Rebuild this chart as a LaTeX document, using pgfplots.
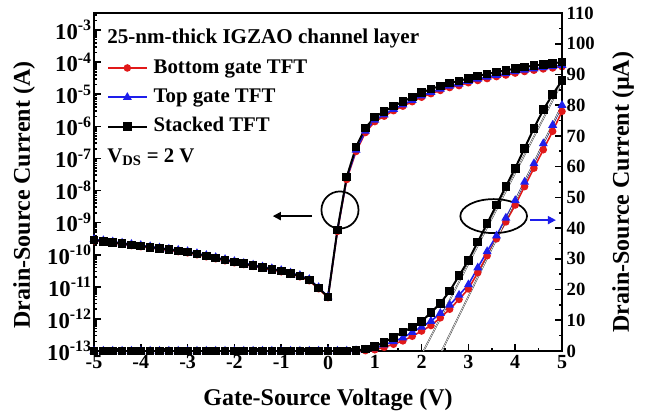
\documentclass[border=0pt]{standalone}
\usepackage{fontspec}
\setmainfont{Liberation Serif}
\usepackage{pgfplots}
\usepackage{pgfplotstable}
\pgfplotsset{compat=1.18}
\usetikzlibrary{arrows.meta}
\definecolor{cred}{RGB}{225,25,25}
\definecolor{cblue}{RGB}{30,30,235}

\pgfplotstableread{
x bot top stk
-5.0 2.73e-10 3.01e-10 2.87e-10
-4.8 2.51e-10 2.77e-10 2.64e-10
-4.6 2.30e-10 2.54e-10 2.42e-10
-4.4 2.11e-10 2.33e-10 2.22e-10
-4.2 1.93e-10 2.13e-10 2.03e-10
-4.0 1.78e-10 1.96e-10 1.87e-10
-3.8 1.62e-10 1.80e-10 1.71e-10
-3.6 1.49e-10 1.65e-10 1.57e-10
-3.4 1.37e-10 1.51e-10 1.44e-10
-3.2 1.25e-10 1.39e-10 1.32e-10
-3.0 1.15e-10 1.27e-10 1.21e-10
-2.8 9.98e-11 1.10e-10 1.05e-10
-2.6 8.66e-11 9.58e-11 9.12e-11
-2.4 7.50e-11 8.28e-11 7.89e-11
-2.2 6.50e-11 7.18e-11 6.84e-11
-2.0 5.63e-11 6.23e-11 5.93e-11
-1.8 4.95e-11 5.47e-11 5.21e-11
-1.6 4.34e-11 4.80e-11 4.57e-11
-1.4 3.82e-11 4.22e-11 4.02e-11
-1.2 3.35e-11 3.71e-11 3.53e-11
-1.0 2.95e-11 3.26e-11 3.10e-11
-0.8 2.46e-11 2.72e-11 2.59e-11
-0.6 2.06e-11 2.28e-11 2.17e-11
-0.4 1.55e-11 1.71e-11 1.63e-11
-0.2 8.72e-12 9.64e-12 9.18e-12
0.0 4.60e-12 4.90e-12 4.81e-12
0.2 5.30e-10 5.60e-10 5.87e-10
0.4 2.20e-8 2.40e-8 2.63e-8
0.6 1.65e-7 1.83e-7 2.29e-7
0.8 6.42e-7 7.13e-7 8.91e-7
1.0 1.40e-6 1.56e-6 1.95e-6
1.2 2.07e-6 2.30e-6 2.88e-6
1.4 3.07e-6 3.42e-6 4.27e-6
1.6 4.24e-6 4.71e-6 5.89e-6
1.8 5.85e-6 6.50e-6 8.13e-6
2.0 8.06e-6 8.96e-6 1.12e-5
2.2 1.04e-5 1.16e-5 1.45e-5
2.4 1.31e-5 1.46e-5 1.82e-5
2.6 1.61e-5 1.79e-5 2.24e-5
2.8 1.85e-5 2.06e-5 2.57e-5
3.0 2.28e-5 2.53e-5 3.16e-5
3.2 2.68e-5 2.98e-5 3.72e-5
3.4 3.07e-5 3.42e-5 4.27e-5
3.6 3.53e-5 3.92e-5 4.90e-5
3.8 3.96e-5 4.40e-5 5.50e-5
4.0 4.54e-5 5.05e-5 6.31e-5
4.2 5.10e-5 5.66e-5 7.08e-5
4.4 5.59e-5 6.21e-5 7.76e-5
4.6 6.13e-5 6.81e-5 8.51e-5
4.8 6.57e-5 7.30e-5 9.12e-5
5.0 7.20e-5 8.00e-5 1.00e-4
}\logdata

\pgfplotstableread{
x bot top stk
-5.0 0 0 0
-4.8 0 0 0
-4.6 0 0 0
-4.4 0 0 0
-4.2 0 0 0
-4.0 0 0 0
-3.8 0 0 0
-3.6 0 0 0
-3.4 0 0 0
-3.2 0 0 0
-3.0 0 0 0
-2.8 0 0 0
-2.6 0 0 0
-2.4 0 0 0
-2.2 0 0 0
-2.0 0 0 0
-1.8 0 0 0
-1.6 0 0 0
-1.4 0 0 0
-1.2 0 0 0
-1.0 0 0 0
-0.8 0 0 0
-0.6 0 0 0
-0.4 0 0 0
-0.2 0 0 0
0.0 0 0 0
0.2 0 0 0
0.4 0 0.02 0.03
0.6 0.05 0.15 0.2
0.8 0.1 0.3 0.6
1.0 0.4 0.8 1.5
1.2 1.2 2.0 2.8
1.4 2.2 3.1 4.5
1.6 3.3 4.3 6.2
1.8 4.8 6.1 7.8
2.0 6.5 7.8 9.6
2.2 8.3 9.7 12.5
2.4 10.8 12.3 15.5
2.6 13.6 15.0 19.5
2.8 16.8 18.2 24.5
3.0 20.2 21.6 29.5
3.2 25.5 27.1 35.5
3.4 31.0 32.4 41.5
3.6 36.5 37.5 47.5
3.8 42.0 43.3 53.5
4.0 47.5 49.0 59.5
4.2 53.5 55.0 66.0
4.4 59.5 61.0 72.5
4.6 65.5 67.5 78.5
4.8 71.5 73.5 83.5
5.0 78.0 80.0 88.0
}\lindata

\pgfplotsset{
  common/.style={
    scale only axis, width=351pt, height=253.5pt,
    xmin=-5, xmax=5,
    tick align=inside,
    major tick length=5pt, minor tick length=2.5pt,
    every tick/.style={black, line width=1.2pt},
    axis line style={line width=1.8pt},
    /pgf/number format/assume math mode=true,
  },
  redstyle/.style={cred, line width=1.2pt, mark=*, mark size=2.2pt, mark options={fill=cred, draw=cred}},
  bluestyle/.style={cblue, line width=1.2pt, mark=triangle*, mark size=2.7pt, mark options={fill=cblue, draw=cblue}},
  blackstyle/.style={black, line width=1.5pt, mark=square*, mark size=2.5pt, mark options={fill=black}},
}

\begin{document}
\begin{tikzpicture}
\useasboundingbox (-70.5pt,-47.25pt) rectangle (416.25pt,263.25pt);
\begin{axis}[common,
  ymode=log, ymin=1e-13, ymax=3.39e-3,
  tick pos=left,
  xtick={-5,-4,...,5}, minor x tick num=1,
  ytick={1e-13,1e-12,1e-11,1e-10,1e-9,1e-8,1e-7,1e-6,1e-5,1e-4,1e-3},
  minor ytick={2e-13,3e-13,4e-13,5e-13,6e-13,7e-13,8e-13,9e-13,
    2e-12,3e-12,4e-12,5e-12,6e-12,7e-12,8e-12,9e-12,
    2e-11,3e-11,4e-11,5e-11,6e-11,7e-11,8e-11,9e-11,
    2e-10,3e-10,4e-10,5e-10,6e-10,7e-10,8e-10,9e-10,
    2e-9,3e-9,4e-9,5e-9,6e-9,7e-9,8e-9,9e-9,
    2e-8,3e-8,4e-8,5e-8,6e-8,7e-8,8e-8,9e-8,
    2e-7,3e-7,4e-7,5e-7,6e-7,7e-7,8e-7,9e-7,
    2e-6,3e-6,4e-6,5e-6,6e-6,7e-6,8e-6,9e-6,
    2e-5,3e-5,4e-5,5e-5,6e-5,7e-5,8e-5,9e-5,
    2e-4,3e-4,4e-4,5e-4,6e-4,7e-4,8e-4,9e-4,
    2e-3,3e-3},
  yticklabels={10\textsuperscript{-13},10\textsuperscript{-12},10\textsuperscript{-11},10\textsuperscript{-10},10\textsuperscript{-9},10\textsuperscript{-8},10\textsuperscript{-7},10\textsuperscript{-6},10\textsuperscript{-5},10\textsuperscript{-4},10\textsuperscript{-3}},
  yticklabel style={font=\bfseries\fontsize{17}{20}\selectfont, inner xsep=1.5pt},
  xticklabel style={font=\bfseries\fontsize{15}{18}\selectfont},
  xlabel={Gate-Source Voltage (V)},
  ylabel={Drain-Source Current (A)},
  every axis x label/.style={at={([yshift=-36.75pt]axis description cs:0.5,0)}, anchor=center, font=\bfseries\fontsize{18}{21}\selectfont},
  every axis y label/.style={at={([xshift=-52.5pt]axis description cs:0,0.4615)}, anchor=center, rotate=90, font=\bfseries\fontsize{18}{21}\selectfont},
  legend cell align=left,
  legend style={at={(rel axis cs:0.0278,0.865)}, anchor=north west, draw=none, fill=none,
    inner sep=0pt, outer sep=0pt, row sep=8pt,
    font=\bfseries\fontsize{15.6}{18}\selectfont,
    nodes={inner sep=0pt, text height=11pt, text depth=3pt},
    /tikz/every odd column/.append style={column sep=4.5pt}},
  legend image code/.code={\draw[mark repeat=2, mark phase=2] plot coordinates {(0pt,0pt) (14.5pt,0pt) (29pt,0pt)};},
]
\addplot[redstyle] table[x=x, y=bot] {\logdata};
\addlegendentry{Bottom gate TFT}
\addplot[bluestyle] table[x=x, y=top] {\logdata};
\addlegendentry{Top gate TFT}
\addplot[blackstyle] table[x=x, y=stk] {\logdata};
\addlegendentry{Stacked TFT}
\node[anchor=west, inner sep=0pt, font=\bfseries\fontsize{15.8}{18}\selectfont] at (rel axis cs:0.0278,0.926) {25-nm-thick IGZAO channel layer};
\node[anchor=west, inner sep=0pt, font=\bfseries\fontsize{15.6}{18}\selectfont] at (rel axis cs:0.0278,0.574) {V\textsubscript{DS} = 2 V};
\end{axis}
\begin{axis}[common,
  ymin=0, ymax=110,
  axis x line=none, axis y line*=right,
  ytick={0,10,...,110}, minor y tick num=1, ytick pos=right,
  yticklabel style={font=\bfseries\fontsize{14}{17}\selectfont},
  ylabel={Drain-Source Current (µA)},
  every axis y label/.style={at={([xshift=45.75pt]axis description cs:1,0.47)}, anchor=center, rotate=90, font=\bfseries\fontsize{18}{21}\selectfont},
]
\addplot[redstyle] table[x=x, y=bot] {\lindata};
\addplot[bluestyle] table[x=x, y=top] {\lindata};
\addplot[blackstyle] table[x=x, y=stk] {\lindata};
\addplot[draw=black!80, line width=0.35pt, double=white, double distance=0.45pt, mark=none] coordinates {(2.04,0) (4.95,86)};
\addplot[draw=black!80, line width=0.35pt, double=white, double distance=0.45pt, mark=none] coordinates {(2.43,0) (5.0,80)};
\draw[line width=1.3pt] (axis cs:0.256,45.9) circle [radius=13.9pt];
\draw[line width=1.3pt, -{Triangle[length=6pt,width=6pt]}] (axis cs:-0.34,43.9) -- (axis cs:-1.18,43.9);
\draw[line width=1.3pt] (axis cs:3.54,43.9) ellipse [x radius=25pt, y radius=12.75pt];
\draw[cblue, line width=1.3pt, -{Triangle[length=6pt,width=6pt]}] (axis cs:4.32,42.6) -- (axis cs:4.87,42.6);
\end{axis}
\end{tikzpicture}
\end{document}
